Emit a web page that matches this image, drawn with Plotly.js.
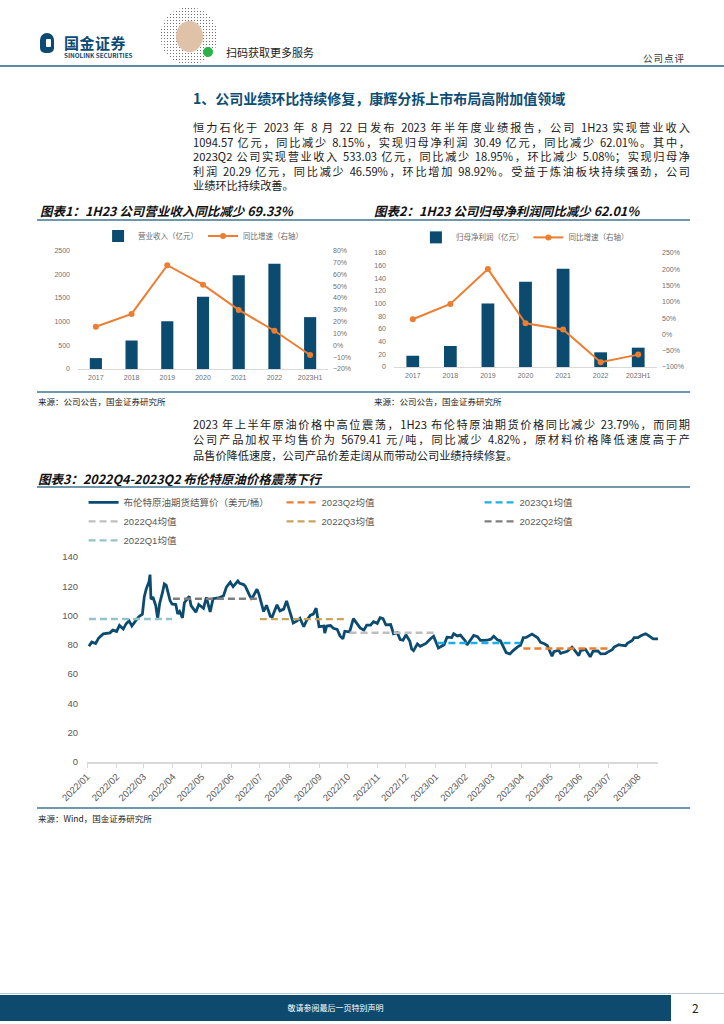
<!DOCTYPE html>
<html><head><meta charset="utf-8">
<script src="https://cdn.plot.ly/plotly-3.0.1.min.js"></script>
<style>
body{margin:0;background:#fff;}
#page{position:relative;width:724px;height:1024px;overflow:hidden;font-family:"Noto Sans CJK SC","Noto Sans",sans-serif;color:#1a1a1a;background:#fff;}
.a{position:absolute;}
.rule{position:absolute;height:2px;background:#6f97ad;}
.pl{position:absolute;left:193px;width:497px;height:15px;line-height:15px;font-size:11.2px;text-align:justify;text-align-last:justify;color:#1a1a1a;}
.pl.last{text-align-last:left;}
.ct{position:absolute;font-size:12.5px;font-weight:700;font-style:italic;color:#111;white-space:nowrap;}
.src{position:absolute;font-size:8.5px;color:#222;white-space:nowrap;}
</style></head>
<body><div id="page">
  <!-- header -->
  <div class="a" style="left:40px;top:33px;width:14px;height:20px;background:#0d4a73;border-radius:7px 7px 5px 5px;"></div>
  <div class="a" style="left:46px;top:39px;width:5px;height:8px;background:#fff;border-radius:1px;"></div>
  <div class="a" style="left:64px;top:32px;font-size:15px;font-weight:700;color:#0d4a73;letter-spacing:0.5px;white-space:nowrap;">国金证券</div>
  <div class="a" style="left:64px;top:51px;font-size:6.3px;font-weight:700;color:#0d4a73;white-space:nowrap;">SINOLINK SECURITIES</div>
  <div class="a" style="left:160px;top:7px;width:58px;height:58px;border-radius:50%;background:radial-gradient(#444 32%, transparent 38%) 0 0/3px 3px;opacity:0.75;"></div>
  <div class="a" style="left:176px;top:21px;width:27px;height:31px;border-radius:50%;background:#e0c2a8;"></div>
  <div class="a" style="left:203px;top:47px;width:10px;height:10px;border-radius:50%;background:#2bb34a;"></div>
  <div class="a" style="left:226px;top:44px;font-size:11px;color:#222;white-space:nowrap;">扫码获取更多服务</div>
  <div class="a" style="left:643px;top:51px;font-size:9.5px;color:#333;white-space:nowrap;letter-spacing:1px;">公司点评</div>
  <div class="rule" style="left:0;top:65px;width:724px;height:2px;background:#5d8aa3;"></div>

  <!-- section heading -->
  <div class="a" style="left:193px;top:88px;font-size:14px;font-weight:700;color:#0e4d74;white-space:nowrap;">1、公司业绩环比持续修复，康辉分拆上市布局高附加值领域</div>

  <div class="pl" style="top:120px;">恒力石化于 2023 年 8 月 22 日发布 2023 年半年度业绩报告，公司 1H23 实现营业收入</div>
  <div class="pl" style="top:134.5px;">1094.57 亿元，同比减少 8.15%，实现归母净利润 30.49 亿元，同比减少 62.01%。其中，</div>
  <div class="pl" style="top:149px;">2023Q2 公司实现营业收入 533.03 亿元，同比减少 18.95%，环比减少 5.08%；实现归母净</div>
  <div class="pl" style="top:163.5px;">利润 20.29 亿元，同比减少 46.59%，环比增加 98.92%。受益于炼油板块持续强劲，公司</div>
  <div class="pl last" style="top:178px;">业绩环比持续改善。</div>

  <!-- chart 1 & 2 titles -->
  <div class="ct" style="left:40px;top:201px;">图表1：1H23 公司营业收入同比减少 69.33%</div>
  <div class="ct" style="left:374px;top:201px;">图表2：1H23 公司归母净利润同比减少 62.01%</div>
  <div class="rule" style="left:37px;top:219px;width:653px;"></div>
  <div id="c1" class="a" style="left:0;top:225px;width:362px;height:165px;"></div>
  <div id="c2" class="a" style="left:362px;top:225px;width:362px;height:165px;"></div>
  <div class="rule" style="left:37px;top:391px;width:653px;"></div>
  <div class="src" style="left:38px;top:395px;">来源：公司公告，国金证券研究所</div>
  <div class="src" style="left:374px;top:395px;">来源：公司公告，国金证券研究所</div>

  <div class="pl" style="top:416.5px;">2023 年上半年原油价格中高位震荡，1H23 布伦特原油期货价格同比减少 23.79%，而同期</div>
  <div class="pl" style="top:432px;">公司产品加权平均售价为 5679.41 元/吨，同比减少 4.82%，原材料价格降低速度高于产</div>
  <div class="pl last" style="top:447.5px;">品售价降低速度，公司产品价差走阔从而带动公司业绩持续修复。</div>

  <div class="ct" style="left:38px;top:469px;">图表3：2022Q4-2023Q2 布伦特原油价格震荡下行</div>
  <div class="rule" style="left:37px;top:486px;width:653px;"></div>
  <div id="c3" class="a" style="left:0;top:430px;width:724px;height:400px;"></div>
  <div class="rule" style="left:37px;top:807px;width:653px;"></div>
  <div class="src" style="left:38px;top:812px;">来源：Wind，国金证券研究所</div>

  <!-- footer -->
  <div class="a" style="left:0;top:993px;width:724px;height:1px;background:#b8cbd6;"></div>
  <div class="a" style="left:0;top:995px;width:671px;height:26px;background:#0d4a6e;"></div>
  <div class="a" style="left:0;top:1002px;width:671px;text-align:center;font-size:8px;color:#fff;">敬请参阅最后一页特别声明</div>
  <div class="a" style="left:692px;top:999px;font-size:12px;color:#222;">2</div>
</div>
<script>
// ---------- data ----------
const years = ['2017','2018','2019','2020','2021','2022','2023H1'];
const revenue = [230, 601, 1008, 1524, 1980, 2224, 1095];
const revenueYoY = [15.7, 26.5, 67.6, 51.2, 29.9, 12.3, -8.15];
const netProfit = [17.8, 33.2, 100.3, 134.6, 155.3, 23.2, 30.5];
const netProfitYoY = [46.5, 93.5, 200.6, 34.2, 15.4, -85.1, -62.0];

const brentDates = [
'2022-01-03','2022-01-06','2022-01-10','2022-01-13','2022-01-18','2022-01-21','2022-01-25','2022-01-28',
'2022-02-01','2022-02-04','2022-02-08','2022-02-11','2022-02-14','2022-02-17','2022-02-22','2022-02-24','2022-02-28',
'2022-03-02','2022-03-04','2022-03-07','2022-03-08','2022-03-09','2022-03-11','2022-03-14','2022-03-16','2022-03-18','2022-03-21','2022-03-23','2022-03-25','2022-03-29','2022-03-31',
'2022-04-04','2022-04-06','2022-04-08','2022-04-11','2022-04-13','2022-04-18','2022-04-20','2022-04-25','2022-04-28',
'2022-05-03','2022-05-06','2022-05-10','2022-05-13','2022-05-17','2022-05-19','2022-05-24','2022-05-27','2022-05-31',
'2022-06-03','2022-06-08','2022-06-10','2022-06-14','2022-06-16','2022-06-20','2022-06-22','2022-06-24','2022-06-28','2022-06-30',
'2022-07-05','2022-07-08','2022-07-12','2022-07-14','2022-07-19','2022-07-22','2022-07-26','2022-07-29',
'2022-08-02','2022-08-05','2022-08-09','2022-08-12','2022-08-16','2022-08-19','2022-08-23','2022-08-26','2022-08-29',
'2022-09-01','2022-09-06','2022-09-07','2022-09-09','2022-09-13','2022-09-16','2022-09-20','2022-09-23','2022-09-26','2022-09-28',
'2022-10-03','2022-10-05','2022-10-07','2022-10-11','2022-10-14','2022-10-18','2022-10-21','2022-10-25','2022-10-28',
'2022-11-01','2022-11-04','2022-11-07','2022-11-10','2022-11-15','2022-11-18','2022-11-22','2022-11-25','2022-11-28',
'2022-12-01','2022-12-05','2022-12-07','2022-12-09','2022-12-13','2022-12-16','2022-12-20','2022-12-22','2022-12-27','2022-12-30',
'2023-01-04','2023-01-06','2023-01-10','2023-01-13','2023-01-18','2023-01-20','2023-01-24','2023-01-27',
'2023-02-01','2023-02-03','2023-02-07','2023-02-10','2023-02-14','2023-02-17','2023-02-21','2023-02-24','2023-02-28',
'2023-03-03','2023-03-07','2023-03-10','2023-03-14','2023-03-16','2023-03-20','2023-03-23','2023-03-28','2023-03-31',
'2023-04-03','2023-04-06','2023-04-12','2023-04-14','2023-04-18','2023-04-21','2023-04-25','2023-04-28',
'2023-05-03','2023-05-05','2023-05-10','2023-05-12','2023-05-16','2023-05-19','2023-05-24','2023-05-26','2023-05-31',
'2023-06-02','2023-06-07','2023-06-12','2023-06-15','2023-06-20','2023-06-23','2023-06-28','2023-06-30',
'2023-07-05','2023-07-07','2023-07-12','2023-07-14','2023-07-19','2023-07-21','2023-07-26','2023-07-28',
'2023-08-01','2023-08-04','2023-08-09','2023-08-11','2023-08-15','2023-08-17','2023-08-22'];
const brentPrice = [
78.98,81.99,80.87,84.47,87.51,87.89,88.20,90.03,
89.16,93.27,90.78,94.44,96.48,92.97,96.84,99.08,100.99,
112.93,118.11,123.21,127.98,111.14,112.67,106.90,98.02,107.93,115.62,121.60,120.65,110.23,107.91,
107.53,101.07,102.78,98.48,108.78,113.16,106.80,102.32,107.59,
104.97,112.39,102.46,111.55,111.93,112.04,113.56,119.43,122.84,
119.72,123.58,122.01,121.17,119.81,114.13,111.74,113.12,117.98,114.81,
102.77,107.02,99.49,99.10,107.35,103.20,104.40,110.01,
100.54,94.92,96.31,98.15,92.34,96.72,100.22,100.99,105.09,
92.36,92.83,88.00,92.84,93.17,91.35,90.62,86.15,84.06,89.32,
88.86,93.37,97.92,94.29,91.63,90.03,93.50,93.52,95.77,
94.65,98.57,97.92,93.67,93.86,87.62,88.36,83.63,83.19,
86.88,82.68,77.17,76.10,80.68,79.04,79.99,80.98,84.33,85.91,
77.84,78.57,80.10,85.28,84.98,87.63,86.13,86.66,
82.84,79.94,83.69,86.39,85.58,83.00,83.05,83.16,83.89,
85.83,83.29,82.78,77.45,74.70,73.79,75.91,78.65,79.77,
84.93,85.12,87.33,86.31,84.77,81.66,80.77,79.54,
72.33,75.30,76.41,74.17,74.91,75.58,78.36,76.95,72.66,
76.13,76.95,71.84,75.67,75.90,73.85,74.03,74.90,
76.65,78.47,80.11,79.87,79.46,81.07,82.92,84.99,
84.91,86.24,87.55,86.81,84.89,84.12,84.03];

const quarterNames = ['2023Q2','2023Q1','2022Q4','2022Q3','2022Q2','2022Q1'];
const quarterStart = ['2023-04-03','2023-01-03','2022-10-03','2022-07-01','2022-04-01','2022-01-03'];
const quarterEnd   = ['2023-06-30','2023-03-31','2022-12-30','2022-09-30','2022-06-30','2022-03-31'];
const quarterMean  = [77.5, 81.3, 88.3, 97.6, 111.5, 97.7];

// ---------- styles ----------
const NAVY = '#0b4b6f', ORANGE = '#ED7D31';
const quarterColors = ['#ED7D31','#1AAFE8','#BFBFBF','#C9A45C','#7F7F7F','#93C4CC'];
const FONT = '"Liberation Sans", Arial, "Noto Sans CJK SC", sans-serif';
const cfg = {staticPlot:true, displayModeBar:false};

function dualChart(el, barName, barVals, lineVals, m, leftAx, rightAx, legX, legY){
  const traces = [
    {type:'bar', x:years, y:barVals, name:barName, marker:{color:NAVY}, yaxis:'y'},
    {type:'scatter', mode:'lines+markers', x:years, y:lineVals, name:'同比增速（右轴）', yaxis:'y2',
     line:{color:ORANGE, width:2}, marker:{color:ORANGE, size:6}}
  ];
  const tickf = {family:FONT, size:7, color:'#707070'};
  const layout = {
    width:362, height:165, margin:m, paper_bgcolor:'#fff', plot_bgcolor:'#fff',
    font:{family:FONT}, bargap:0.66, showlegend:true,
    legend:{orientation:'h', xref:'container', yref:'container', x:legX, xanchor:'center', y:legY, yanchor:'middle',
            font:{size:7.5, color:'#6b6b6b'}, itemwidth:30, tracegroupgap:0},
    xaxis:{type:'category', showgrid:false, showline:true, linecolor:'#d9d9d9', linewidth:1, ticks:'', tickfont:tickf, ticklabelstandoff:2},
    yaxis:Object.assign({showgrid:false, zeroline:false, showline:false, ticks:'', tickfont:tickf, ticklabelstandoff:7}, leftAx),
    yaxis2:Object.assign({overlaying:'y', side:'right', showgrid:false, zeroline:false, showline:false, ticks:'', tickfont:tickf, ticksuffix:'%', ticklabelstandoff:4}, rightAx)
  };
  Plotly.newPlot(el, traces, layout, cfg);
}

dualChart('c1', '营业收入（亿元）', revenue, revenueYoY,
  {l:78, r:34, t:25, b:20.7},
  {range:[0,2500], dtick:500, tick0:0},
  {range:[-20,80], dtick:10, tick0:-20}, 0.561, 0.933);

dualChart('c2', '归母净利润（亿元）', netProfit, netProfitYoY,
  {l:31.7, r:67, t:27.7, b:22.7},
  {range:[0,180], dtick:20, tick0:0},
  {range:[-100,250], dtick:50, tick0:-100}, 0.45, 0.925);

// chart 3 (div starts higher with transparent paper so the legend fits inside the top margin)
const t3 = [{type:'scatter', mode:'lines', x:brentDates, y:brentPrice, name:'布伦特原油期货结算价（美元/桶）',
             line:{color:NAVY, width:2.8}, legendrank:1}];
quarterNames.forEach((q,i)=>{
  t3.push({type:'scatter', mode:'lines', x:[quarterStart[i], quarterEnd[i]], y:[quarterMean[i], quarterMean[i]],
           name:q+'均值', line:{color:quarterColors[i], width:2.4, dash:'7px,4px'}, legendrank:i+2});
});
Plotly.newPlot('c3', t3, {
  width:724, height:400, margin:{l:86.7, r:66, t:127, b:68.3},
  paper_bgcolor:'rgba(0,0,0,0)', plot_bgcolor:'rgba(0,0,0,0)', font:{family:FONT},
  showlegend:true,
  legend:{orientation:'h', x:-0.006, xanchor:'left', y:1.337, yanchor:'top', bgcolor:'rgba(0,0,0,0)',
          font:{size:9.5, color:'#595959'}, entrywidth:153, entrywidthmode:'pixels', itemwidth:30},
  xaxis:{type:'date', range:['2022-01-01','2023-08-22'], tick0:'2022-01-01', dtick:'M1', tickformat:'%Y/%m',
         tickangle:-45, showgrid:false, showline:true, linecolor:'#d9d9d9', linewidth:1.5,
         ticks:'outside', ticklen:4, tickcolor:'#d9d9d9', tickfont:{size:9.5, color:'#595959'}},
  yaxis:{range:[0,140], dtick:20, showgrid:false, zeroline:false, showline:false, ticks:'',
         tickfont:{size:9.5, color:'#595959'}, ticklabelstandoff:8}
}, cfg);
</script>
</body></html>
